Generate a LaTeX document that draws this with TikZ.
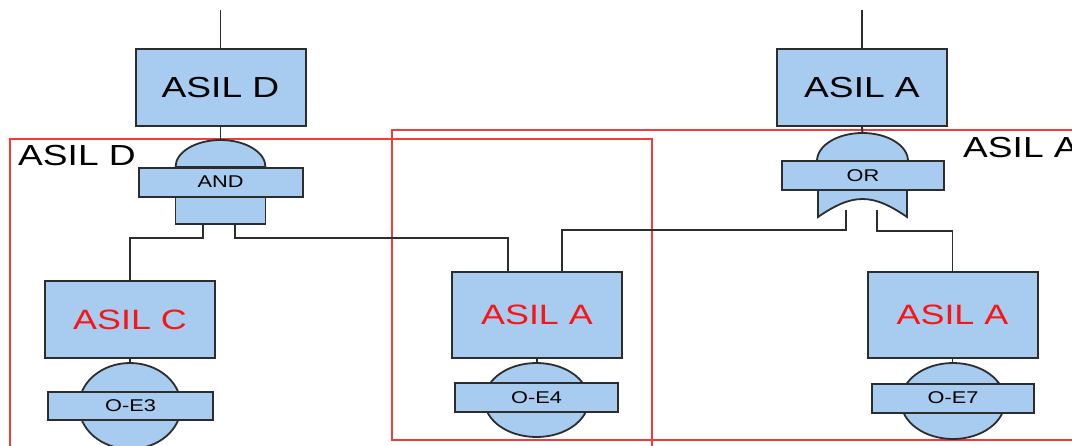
\documentclass[tikz,border=0pt]{standalone}
\usepackage{fontspec}
\setmainfont{Liberation Sans}
\usepackage{graphicx}
\usetikzlibrary{positioning}

\definecolor{gatefill}{RGB}{168,203,240}
\definecolor{edgegray}{RGB}{45,45,45}
\definecolor{zonered}{RGB}{242,60,60}
\definecolor{asilred}{RGB}{250,20,20}

\newcommand{\wide}[1]{\scalebox{1.28}[1]{#1}}

\tikzset{
  asil/.style={draw=edgegray, fill=gatefill, line width=2pt, minimum width=170pt, minimum height=77pt, inner sep=0pt},
  gatebar/.style={draw=edgegray, fill=gatefill, line width=2pt, minimum width=164pt, minimum height=29pt, inner sep=0pt, font=\fontsize{17}{19}\selectfont},
  gatebody/.style={draw=edgegray, fill=gatefill, line width=1.8pt},
  zone/.style={draw=zonered, line width=2pt},
  wire/.style={draw=edgegray, line width=1.8pt},
  bigtext/.style={font=\fontsize{29}{32}\selectfont},
  redtext/.style={font=\fontsize{28}{31}\selectfont, text=asilred},
}

\begin{document}
\begin{tikzpicture}[x=1pt, y=-1pt]
    \useasboundingbox (0,0) rectangle (1072,445);
    \clip (0,0) rectangle (1072,445);

    % zones
    \draw[zone] (10,460) -- (10,139) -- (652,139) -- (652,460);
    \draw[zone] (1090,130) -- (392,130) -- (392,440) -- (1090,440);
    \node[bigtext, anchor=base west, inner sep=0pt] (zoneD) at (18,165) {\wide{ASIL D}};
    \node[bigtext, anchor=base west, inner sep=0pt] (zoneA) at (963,157) {\wide{ASIL A}};

    % boxes
    \node[asil, bigtext] (topD) at (220.5,87.5) {\wide{ASIL D}};
    \node[asil, bigtext] (topA) at (862,87.5) {\wide{ASIL A}};
    \node[asil, redtext] (asilC) at (130,319.5) {\wide{ASIL C}};
    \node[asil, redtext, minimum height=86pt] (midA) at (537,315) {\wide{ASIL A}};
    \node[asil, redtext, minimum height=86pt] (rightA) at (952.5,315) {\wide{ASIL A}};

    \coordinate (topDin) at (220.5,10);
    \coordinate (topAin) at (862,10);
    \coordinate (andTop) at (220.5,140);
    \coordinate (orTop) at (862.5,133);
    \coordinate (andL) at (203,224);
    \coordinate (andR) at (235,224);
    \coordinate (orL) at (846,210);
    \coordinate (orR) at (877,210);
    \coordinate (midIn1) at (508,272);
    \coordinate (midIn2) at (562,272);

    % connectors
    \draw[wire] (topDin) -- (topD.north);
    \draw[wire] (topAin) -- (topA.north);
    \draw[wire] (topD.south) -- (andTop);
    \draw[wire] (topA.south) -- (orTop);
    \draw[wire] (andL) -- ++(0,14) -| (asilC.north);
    \draw[wire] (andR) -- ++(0,14) -| (midIn1);
    \draw[wire] (orL) -- (846,230) -| (midIn2);
    \draw[wire] (orR) -- (877,231) -| (rightA.north);

    % AND gate
    \draw[gatebody] (175.5,167) arc[start angle=180, end angle=360, x radius=45, y radius=27] -- cycle;
    \draw[gatebody] (175.5,197) rectangle (265.5,224);
    \node[gatebar] (andGate) at (220.5,182) {\wide{AND}};

    % OR gate
    \draw[gatebody] (817,161) arc[start angle=180, end angle=360, x radius=45.5, y radius=28] -- cycle;
    \draw[gatebody] (818,190) -- (818,217)
        .. controls (834,206) and (848,199) .. (862.5,199)
        .. controls (877,199) and (891,206) .. (907,217) -- (907,190) -- cycle;
    \node[gatebar, minimum width=162pt] (orGate) at (863,175.5) {\wide{OR}};

    % basic events
    \draw[wire] (asilC.south) -- (130,363);
    \draw[wire] (midA.south) -- (537,363);
    \draw[wire] (rightA.south) -- (952.5,363);
    \draw[gatebody] (130,406) ellipse[x radius=51, y radius=43];
    \draw[gatebody] (536.5,400) ellipse[x radius=52, y radius=37];
    \draw[gatebody] (953,401) ellipse[x radius=52, y radius=38];
    \node[gatebar, minimum width=165pt, minimum height=28pt] (e3) at (130.5,406) {\wide{O-E3}};
    \node[gatebar, minimum width=163pt] (e4) at (536.5,397.5) {\wide{O-E4}};
    \node[gatebar, minimum width=162pt] (e7) at (953,398) {\wide{O-E7}};

\end{tikzpicture}
\end{document}
